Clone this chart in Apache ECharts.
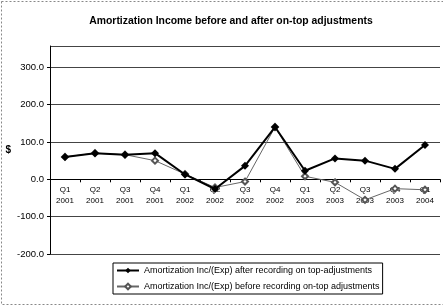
<html>
<head>
  <meta charset="utf-8">
  <title>amortization</title>
  <script src="https://cdn.jsdelivr.net/npm/echarts@6/dist/echarts.min.js"></script>
</head>
<body style="margin:0;background:#fff;">
<div id="main" style="width:443px;height:306px;"></div>
<script>
  var quarters = ['Q1\n2001', 'Q2\n2001', 'Q3\n2001', 'Q4\n2001', 'Q1\n2002', 'Q2\n2002', 'Q3\n2002',
                  'Q4\n2002', 'Q1\n2003', 'Q2\n2003', 'Q3\n2003', 'Q4\n2003', 'Q1\n2004'];
  var afterAdj = [60, 70, 66, 70, 13, -26, 36, 140, 23, 56, 50, 28, 92];
  var beforeAdj = [60, 70, 66, 50, 14, -22, -6, 140, 8, -8, -55, -25, -28];

  var myChart = echarts.init(document.getElementById('main'));
  var font = 'Liberation Sans, Arial, sans-serif';

  option = {
    backgroundColor: '#fff',
    animation: false,
    textStyle: { fontFamily: font },
    title: {
      text: 'Amortization Income before and after on-top adjustments',
      left: 226,
      textAlign: 'center',
      top: 11,
      textStyle: { fontSize: 10.4, fontWeight: 'bold', color: '#000', fontFamily: font }
    },
    graphic: [{
      type: 'rect',
      shape: { x: 1.5, y: 1.5, width: 446, height: 303 },
      style: { fill: 'none', stroke: '#888', lineWidth: 1, lineDash: [2, 2] },
      silent: true
    }],
    grid: { left: 50, right: 3, top: 46, bottom: 52 },
    legend: {
      orient: 'vertical',
      left: 113,
      top: 263,
      itemWidth: 22,
      itemHeight: 7,
      itemGap: 7,
      padding: [3, 3, 3, 3],
      borderColor: '#000',
      borderWidth: 1,
      textStyle: { fontSize: 9, color: '#000', fontFamily: font },
      data: ['Amortization Inc/(Exp) after recording on top-adjustments',
             'Amortization Inc/(Exp) before recording on-top adjustments']
    },
    xAxis: {
      type: 'category',
      data: quarters,
      boundaryGap: true,
      offset: 0,
      axisLine: { onZero: false, lineStyle: { color: '#000', width: 1 } },
      axisTick: { show: true, length: 3, lineStyle: { color: '#000' } },
      axisLabel: { fontSize: 8, color: '#000', lineHeight: 11, interval: 0, margin: 5 },
      splitLine: { show: false }
    },
    yAxis: {
      type: 'value',
      min: -200,
      max: 357,
      interval: 100,
      name: '$',
      nameLocation: 'middle',
      nameRotate: 0,
      nameGap: 35,
      nameTextStyle: { fontSize: 10, fontWeight: 'bold', color: '#000' },
      axisLine: { show: true, lineStyle: { color: '#000' } },
      axisTick: { show: true, length: 3, lineStyle: { color: '#000' } },
      axisLabel: {
        fontSize: 9.5, color: '#000', margin: 6, showMaxLabel: false,
        formatter: function (v) { return v.toFixed(1); }
      },
      splitLine: { show: true, lineStyle: { color: '#444', width: 1 } }
    },
    series: [
      {
        name: 'Amortization Inc/(Exp) after recording on top-adjustments',
        type: 'line',
        data: afterAdj,
        symbol: 'diamond',
        symbolSize: 8,
        itemStyle: { color: '#000' },
        lineStyle: { color: '#000', width: 2 },
        z: 3
      },
      {
        name: 'Amortization Inc/(Exp) before recording on-top adjustments',
        type: 'line',
        data: beforeAdj,
        symbol: 'emptyDiamond',
        symbolSize: 6,
        itemStyle: { color: '#555', borderColor: '#555' },
        lineStyle: { color: '#666', width: 1 },
        z: 2
      }
    ]
  };

  myChart.setOption(option);

  // move the category axis (line, ticks and labels) up to the zero line
  var yZero = myChart.convertToPixel({ yAxisIndex: 0 }, 0);
  var yMin = myChart.convertToPixel({ yAxisIndex: 0 }, -200);
  myChart.setOption({ xAxis: { offset: yZero - yMin } });
</script>
</body>
</html>
